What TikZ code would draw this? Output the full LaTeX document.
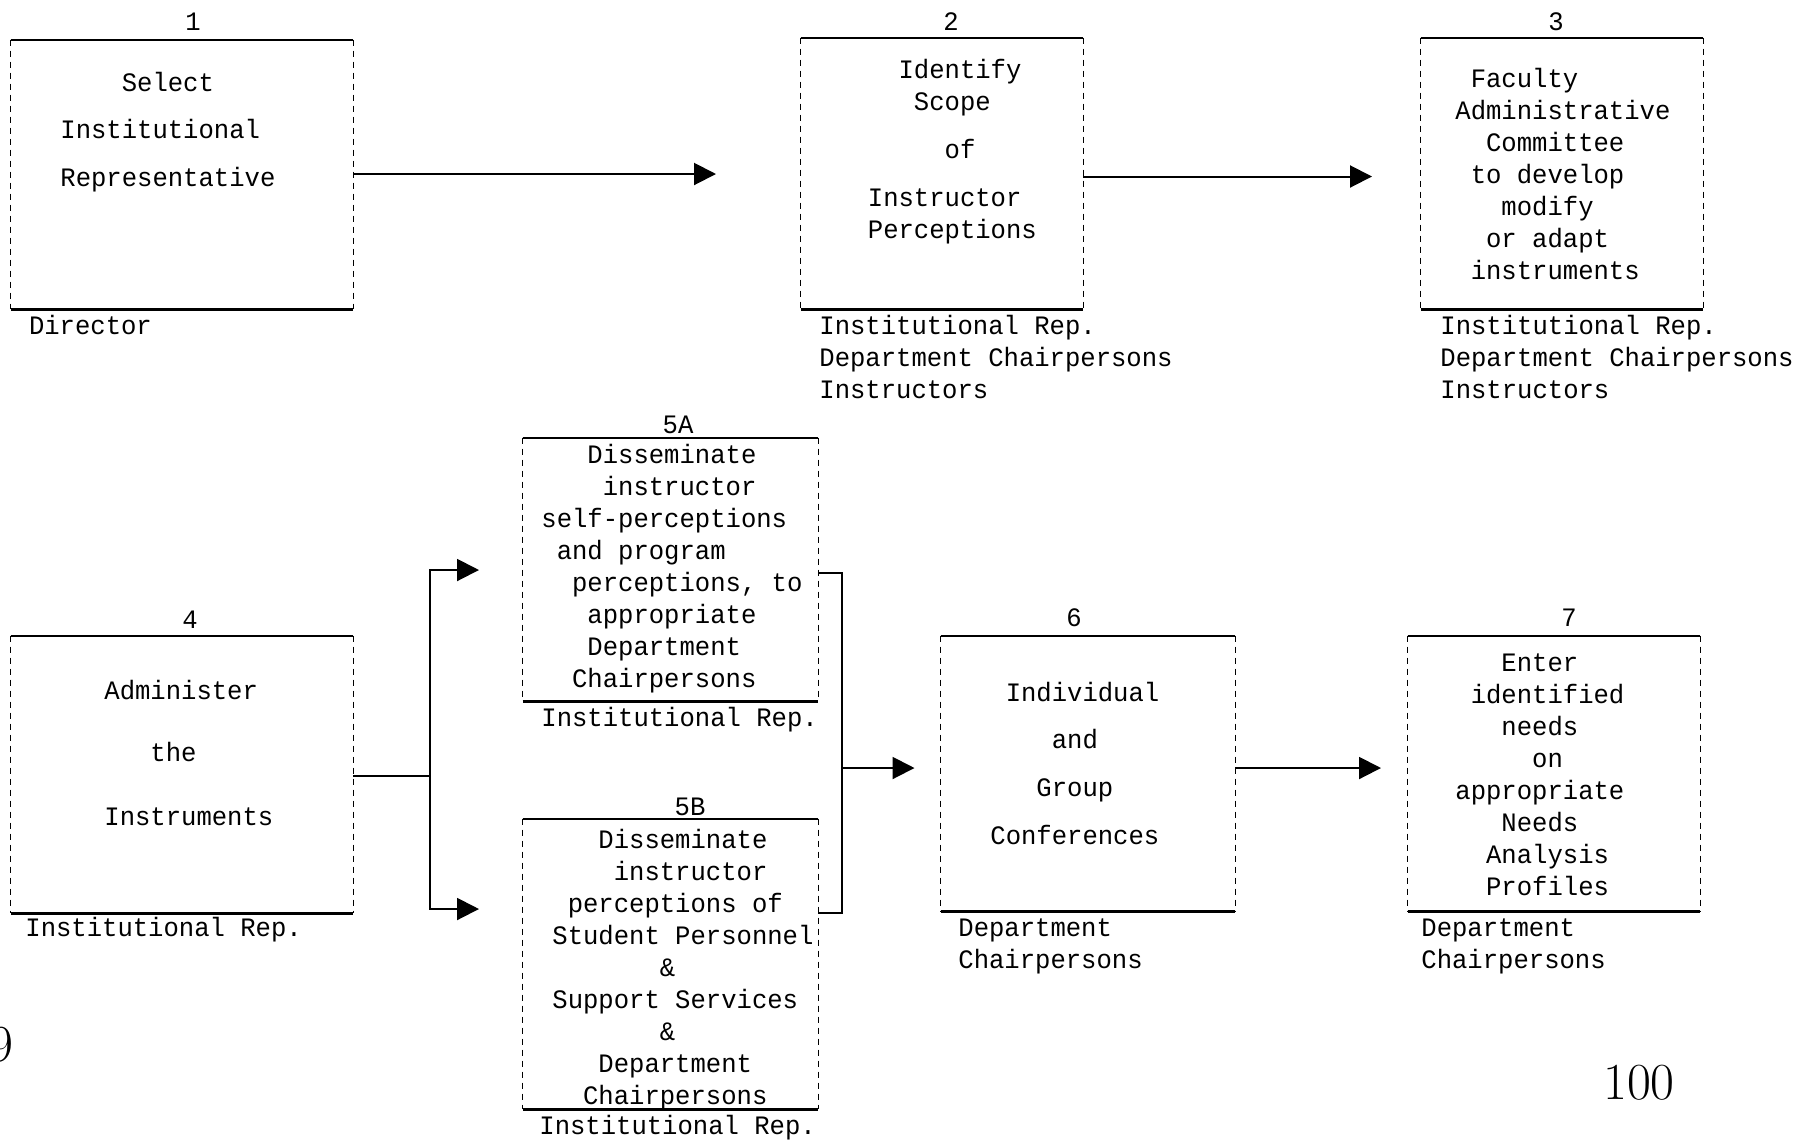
\documentclass[tikz,border=0pt]{standalone}
\usepackage{fontspec}
\usetikzlibrary{arrows.meta,fit}
\newfontfamily\tw{Liberation Mono}[FakeStretch=0.962]
\newcommand\twsize{\tw\fontsize{13.3pt}{16pt}\selectfont}
% indent by a number of typewriter columns
\newcommand\ind[1]{\hspace*{#1\fontcharwd\font`0}}
% a stage: solid rules above and below, dashed sides
\newcommand\stagebox[5]{%
  \coordinate (#1-a) at (#2,#3);
  \coordinate (#1-b) at (#4,#5);
  \node[inner sep=0pt, fit=(#1-a)(#1-b)] (#1) {};
  \draw[solidedge] (#1.north west) -- (#1.north east);
  \draw[solidedge] (#1.south west) -- (#1.south east);
  \draw[sideedge] (#1.north west) -- (#1.south west);
  \draw[sideedge] (#1.north east) -- (#1.south east);
}
% typed lines: name, left column x, list of centre-y/indent/text
\newcommand\tlines[3]{%
  \foreach \yy/\ii/\txtline [count=\k] in {#3} {
    \node[txt] (#1-\k) at (#2,\yy+9) {\ind{\ii}\txtline};
  }
}
\begin{document}
\begin{tikzpicture}[x=0.5pt,y=-0.5pt,
  txt/.style={font=\twsize, inner sep=0pt, anchor=base west},
  num/.style={font=\twsize, inner sep=0pt, anchor=base},
  solidedge/.style={line width=1.1pt},
  sideedge/.style={line width=0.6pt, dash pattern=on 3pt off 2.5pt},
  conn/.style={line width=1pt},
  arr/.style={conn, -{Triangle[length=11pt,width=11pt]}},
  pagenum/.style={font=\fontsize{26pt}{30pt}\selectfont, inner sep=0pt}]
\useasboundingbox (0,0) rectangle (1797,1142);

% ---- stages ----
\stagebox{b1}{11}{40}{353}{309}
\stagebox{b2}{801}{38}{1083}{309}
\stagebox{b3}{1421}{38}{1703}{309}
\stagebox{b4}{11}{636}{353}{913}
\stagebox{b5a}{523}{438}{818}{701}
\stagebox{b5b}{523}{819}{818}{1109}
\stagebox{b6}{941}{636}{1235}{911}
\stagebox{b7}{1408}{636}{1700}{911}

% ---- step numbers ----
\node[num] (n1) at (193,30) {1};
\node[num] (n2) at (951,30) {2};
\node[num] (n3) at (1556,30) {3};
\node[num] (n4) at (190,628) {4};
\node[num] (n5a) at (678,433) {5A};
\node[num] (n5b) at (690,815) {5B};
\node[num] (n6) at (1074,626) {6};
\node[num] (n7) at (1569,626) {7};

% ---- texts inside the stages ----
\tlines{t1}{60}{82.5/4/Select, 129.5/0/Institutional, 177.6/0/Representative}
\tlines{t2}{867.5}{69/2/Identify, 101/3/Scope, 149/5/of, 197/0/Instructor, 229/0/Perceptions}
\tlines{t3}{1455}{78/1/Faculty, 110/0/Administrative, 142/2/Committee,
  174/1/to develop, 206/3/modify, 238/2/or adapt, 270/1/instruments}
\tlines{t4}{104}{690/0/Administer, 752/3/the, 816/0/Instruments}
\tlines{t5a}{541}{454/3/Disseminate, 486/4/instructor, 518/0/self-perceptions,
  550/1/and program, 582/2/{perceptions, to}, 614/3/appropriate,
  646/3/Department, 678/2/Chairpersons}
\tlines{t5b}{552}{839/3/Disseminate, 871/4/instructor, 903/1/perceptions of,
  935/0/Student Personnel, 967/7/\&, 999/0/Support Services, 1031/7/\&,
  1063/3/Department, 1095/2/Chairpersons}
\tlines{t6}{990}{692/1/Individual, 739/4/and, 787/3/Group, 835/0/Conferences}
\tlines{t7}{1455}{662/3/Enter, 694/1/identified, 726/3/needs, 758/5/on,
  790/0/appropriate, 822/3/Needs, 854/2/Analysis, 886/2/Profiles}

% ---- responsible persons under the stages ----
\tlines{r1}{28.6}{325.5/0/Director}
\tlines{r2}{819}{325.5/0/Institutional Rep., 357.5/0/Department Chairpersons, 389.6/0/Instructors}
\tlines{r3}{1440}{325.5/0/Institutional Rep., 357.5/0/Department Chairpersons, 389.6/0/Instructors}
\tlines{r4}{25}{927/0/Institutional Rep.}
\tlines{r5a}{541}{717/0/Institutional Rep.}
\tlines{r5b}{539}{1125/0/Institutional Rep.}
\tlines{r6}{958}{927/0/Department, 959/0/Chairpersons}
\tlines{r7}{1421}{927/0/Department, 959/0/Chairpersons}

% ---- connectors ----
\coordinate (e12) at (716,174);
\draw[arr] (b1.east |- e12) -- (e12);
\coordinate (e23) at (1372,176.5);
\draw[arr] (b2.east |- e23) -- (e23);

\coordinate (j4) at (430,776);
\coordinate (e5a) at (479,570);
\coordinate (e5b) at (479,909);
\draw[conn] (b4.east |- j4) -- (j4);
\draw[arr] (j4) |- (e5a);
\draw[arr] (j4) |- (e5b);

\coordinate (r5a) at (842,573);
\coordinate (r5b) at (842,913);
\draw[conn] (b5a.east |- r5a) -- (r5a) -- (r5b) -- (b5b.east |- r5b);
\coordinate (j5) at (842,768);
\coordinate (e6) at (914.5,768);
\draw[arr] (j5) -- (e6);

\coordinate (e67) at (1381,768);
\draw[arr] (b6.east |- e67) -- (e67);

% ---- page numbers ----
\node[pagenum] (p9) at (1,1045) {9};
\node[pagenum] (p100) at (1639,1083) {100};
\end{tikzpicture}
\end{document}
